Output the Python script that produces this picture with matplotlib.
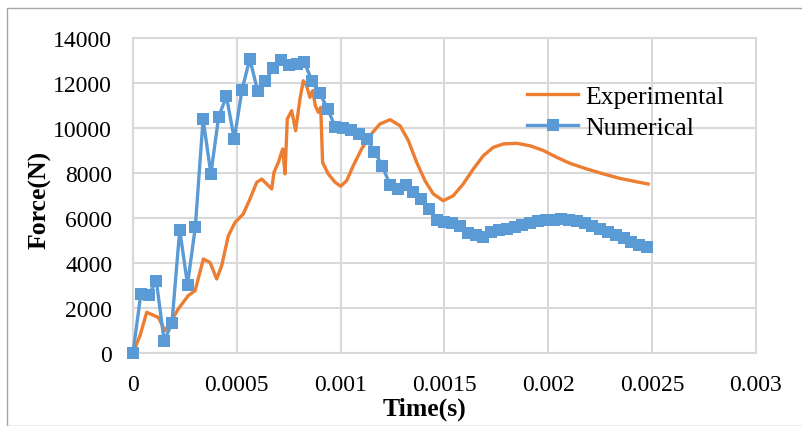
import matplotlib
matplotlib.use("Agg")
import matplotlib.pyplot as plt
from matplotlib.patches import Rectangle

# ---- data ----
exp_t = [0.0, 0.0000337, 0.000066, 0.000122, 0.000154, 0.000186, 0.000218, 0.000266,
         0.000299, 0.000339, 0.000371, 0.000403, 0.000427, 0.000459, 0.000491, 0.000531,
         0.000563, 0.000596, 0.00062, 0.000644, 0.000668, 0.000679, 0.0007, 0.000721,
         0.000732, 0.000743, 0.000764, 0.000783, 0.000804, 0.00082, 0.000836, 0.000852,
         0.000865, 0.000878, 0.000892, 0.000904, 0.000913, 0.00094, 0.000973, 0.001,
         0.001029, 0.001061, 0.001101, 0.001141, 0.001189, 0.001238, 0.001286, 0.001326,
         0.001366, 0.001406, 0.001446, 0.001494, 0.001542, 0.00159, 0.001639, 0.001687,
         0.001735, 0.001783, 0.001848, 0.001912, 0.001976, 0.00204, 0.002104, 0.002185,
         0.002265, 0.002345, 0.002425, 0.002481]
exp_f = [0, 770, 1810, 1580, 990, 1440, 1960, 2550,
         2770, 4180, 4020, 3290, 3880, 5210, 5800, 6180,
         6840, 7590, 7730, 7510, 7290, 8030, 8470, 9070,
         7960, 10400, 10770, 9880, 11290, 12100, 11880, 11360,
         11660, 10990, 10700, 10920, 8470, 7960, 7590, 7410,
         7660, 8330, 9070, 9660, 10180, 10370, 10100, 9440,
         8470, 7660, 7070, 6770, 6990, 7510, 8180, 8770,
         9140, 9290, 9320, 9210, 9000, 8700, 8430, 8180,
         7960, 7760, 7610, 7510]

num_t = [0.0, 0.0000375, 0.000075, 0.0001125, 0.00015, 0.0001875, 0.000225, 0.0002625,
         0.0003, 0.0003375, 0.000375, 0.0004125, 0.00045, 0.0004875, 0.000525, 0.0005625,
         0.0006, 0.0006375, 0.000675, 0.0007125, 0.00075, 0.0007875, 0.000825, 0.0008625,
         0.0009, 0.0009375, 0.000975, 0.0010125, 0.00105, 0.0010875, 0.001125, 0.0011625,
         0.0012, 0.0012375, 0.001275, 0.0013125, 0.00135, 0.0013875, 0.001425, 0.0014625,
         0.0015, 0.0015375, 0.001575, 0.0016125, 0.00165, 0.0016875, 0.001725, 0.0017625,
         0.0018, 0.0018375, 0.001875, 0.0019125, 0.00195, 0.0019875, 0.002025, 0.0020625,
         0.0021, 0.0021375, 0.002175, 0.0022125, 0.00225, 0.0022875, 0.002325, 0.0023625,
         0.0024, 0.0024375, 0.002475]
num_f = [0, 2620, 2580, 3200, 530, 1330, 5480, 3040,
         5590, 10400, 7960, 10500, 11410, 9510, 11700, 13070,
         11660, 12100, 12650, 13040, 12800, 12840, 12920, 12080,
         11540, 10840, 10030, 9990, 9930, 9730, 9510, 8950,
         8330, 7470, 7290, 7470, 7140, 6840, 6400, 5910,
         5840, 5800, 5660, 5330, 5240, 5140, 5360, 5460,
         5530, 5610, 5700, 5800, 5860, 5900, 5930, 5940,
         5910, 5850, 5780, 5650, 5530, 5390, 5250, 5110,
         4930, 4820, 4730]

x_ticks = [0, 0.0005, 0.001, 0.0015, 0.002, 0.0025, 0.003]
x_tick_labels = ["0", "0.0005", "0.001", "0.0015", "0.002", "0.0025", "0.003"]
y_ticks = [0, 2000, 4000, 6000, 8000, 10000, 12000, 14000]
y_tick_labels = ["0", "2000", "4000", "6000", "8000", "10000", "12000", "14000"]

W, H = 803, 427
plt.rcParams['font.family'] = ['Liberation Serif', 'DejaVu Serif']
fig = plt.figure(figsize=(W / 100, H / 100), dpi=100)

# outer chart border
fig.patches.append(Rectangle((7 / W, 0), 1.2, 1 - 9 / H, transform=fig.transFigure,
                             fill=False, edgecolor='#A6A6A6', linewidth=1.0, zorder=0))

ax = fig.add_axes([133 / W, (H - 354) / H, 623 / W, 315 / H])
grid_c = '#D9D9D9'
ax.set_xlim(0, 0.003)
ax.set_ylim(0, 14000)
ax.set_xticks(x_ticks)
ax.set_xticklabels(x_tick_labels)
ax.set_yticks(y_ticks)
ax.set_yticklabels(y_tick_labels)
ax.tick_params(axis='both', length=0, labelsize=17)
ax.tick_params(axis='x', pad=15)
ax.tick_params(axis='y', pad=15)
ax.grid(True, color=grid_c, linewidth=1.5)
ax.set_axisbelow(True)
for s in ax.spines.values():
    s.set_color(grid_c)
    s.set_linewidth(1.5)

ax.plot(exp_t, exp_f, color='#ED7D31', linewidth=2.4, label='Experimental',
        solid_joinstyle='round', zorder=3)
ax.plot(num_t, num_f, color='#5B9BD5', linewidth=2.4, marker='s', markersize=8.5,
        markeredgewidth=0, label='Numerical', zorder=4, clip_on=False)

leg = ax.legend(loc='upper left', bbox_to_anchor=(394 / 623, 1 - 47 / 315), frameon=False,
                fontsize=18.5, handlelength=2.0, handletextpad=0.27, labelspacing=0.32,
                borderaxespad=0, borderpad=0)

fig.text(425 / W, 1 - 409 / H, 'Time(s)', ha='center', va='center',
         fontsize=18.5, fontweight='bold')
fig.text(40 / W, 1 - 200 / H, 'Force(N)', ha='center', va='center', rotation=90,
         fontsize=18.5, fontweight='bold')

fig.savefig('out.png', dpi=100)
